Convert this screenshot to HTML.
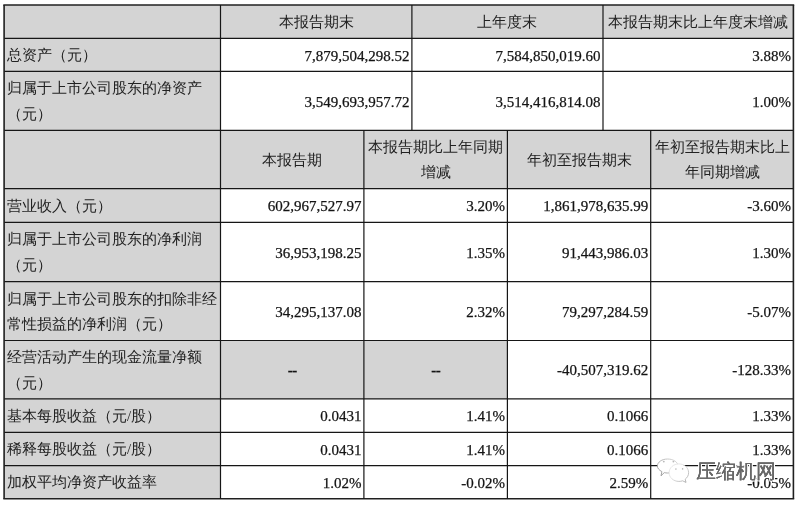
<!DOCTYPE html>
<html><head><meta charset="utf-8"><style>
html,body{margin:0;padding:0;background:#fff;}
#pg{position:relative;width:800px;height:506px;overflow:hidden;background:#fff;filter:grayscale(1);font-family:"Liberation Serif",serif;color:#141414;}
svg{position:absolute;left:0;top:0;}
.c{position:absolute;display:flex;align-items:center;box-sizing:border-box;font-size:14.8px;line-height:25.5px;white-space:nowrap;}
.zh{color:#222;}
.dash{font-weight:bold;letter-spacing:-0.6px;}
.num{font-family:"Liberation Serif",serif;font-size:15px;-webkit-text-stroke:0.25px #141414;}
.wm{position:absolute;}
.wmt{position:absolute;font-family:"Liberation Sans",sans-serif;font-size:19.5px;line-height:24px;color:#686868;white-space:nowrap;text-shadow:0.45px 0 0 #686868,0 0.3px 0 #686868,1.3px 0 0 #fff,-1px 0 0 #fff,0 1.2px 0 #fff,0 -1px 0 #fff,1.2px 1.2px 0 #fff,-1px -1px 0 #fff,1.2px -1px 0 #fff,-1px 1.2px 0 #fff;}
</style></head><body><div id="pg">
<svg width="800" height="506" viewBox="0 0 800 506">
<rect x="4.1" y="5" width="789.30" height="33.40" fill="#d4d4d4"/>
<rect x="4.1" y="38.4" width="216.40" height="91.90" fill="#d4d4d4"/>
<rect x="4.1" y="130.3" width="789.30" height="58.40" fill="#d4d4d4"/>
<rect x="4.1" y="188.7" width="216.40" height="310.10" fill="#d4d4d4"/>
<rect x="220.5" y="340.5" width="286.90" height="58.40" fill="#d4d4d4"/>
<line x1="4.1" y1="38.4" x2="793.4" y2="38.4" stroke="#161616" stroke-width="1.2"/>
<line x1="4.1" y1="71.4" x2="793.4" y2="71.4" stroke="#161616" stroke-width="1.2"/>
<line x1="4.1" y1="130.3" x2="793.4" y2="130.3" stroke="#161616" stroke-width="1.2"/>
<line x1="4.1" y1="188.7" x2="793.4" y2="188.7" stroke="#161616" stroke-width="1.2"/>
<line x1="4.1" y1="222.3" x2="793.4" y2="222.3" stroke="#161616" stroke-width="1.2"/>
<line x1="4.1" y1="281.7" x2="793.4" y2="281.7" stroke="#161616" stroke-width="1.2"/>
<line x1="4.1" y1="340.5" x2="793.4" y2="340.5" stroke="#161616" stroke-width="1.2"/>
<line x1="4.1" y1="398.9" x2="793.4" y2="398.9" stroke="#161616" stroke-width="1.2"/>
<line x1="4.1" y1="432.3" x2="793.4" y2="432.3" stroke="#161616" stroke-width="1.2"/>
<line x1="4.1" y1="465.6" x2="793.4" y2="465.6" stroke="#161616" stroke-width="1.2"/>
<line x1="3.3" y1="5" x2="794.1999999999999" y2="5" stroke="#202020" stroke-width="1.6"/>
<line x1="3.3" y1="498.8" x2="794.1999999999999" y2="498.8" stroke="#202020" stroke-width="1.6"/>
<line x1="4.1" y1="5" x2="4.1" y2="498.8" stroke="#202020" stroke-width="1.6"/>
<line x1="793.4" y1="5" x2="793.4" y2="498.8" stroke="#202020" stroke-width="1.6"/>
<line x1="220.5" y1="5" x2="220.5" y2="498.8" stroke="#161616" stroke-width="1.2"/>
<line x1="411.9" y1="5" x2="411.9" y2="130.3" stroke="#161616" stroke-width="1.2"/>
<line x1="603.0" y1="5" x2="603.0" y2="130.3" stroke="#161616" stroke-width="1.2"/>
<line x1="363.9" y1="130.3" x2="363.9" y2="498.8" stroke="#161616" stroke-width="1.2"/>
<line x1="507.4" y1="130.3" x2="507.4" y2="498.8" stroke="#161616" stroke-width="1.2"/>
<line x1="650.7" y1="130.3" x2="650.7" y2="498.8" stroke="#161616" stroke-width="1.2"/>
</svg>
<div class="c zh" style="left:220.5px;top:6.0px;width:191.4px;height:33.4px;justify-content:center;text-align:center;">本报告期末</div>
<div class="c zh" style="left:411.9px;top:6.0px;width:191.1px;height:33.4px;justify-content:center;text-align:center;">上年度末</div>
<div class="c zh" style="left:603.0px;top:6.0px;width:190.4px;height:33.4px;justify-content:center;text-align:center;">本报告期末比上年度末增减</div>
<div class="c zh" style="left:4.1px;top:39.4px;width:216.4px;height:33.0px;justify-content:flex-start;text-align:left;padding-left:2.8px">总资产（元）</div>
<div class="c num" style="left:220.5px;top:39.9px;width:191.4px;height:33.0px;justify-content:flex-end;text-align:right;padding-right:2.4px">7,879,504,298.52</div>
<div class="c num" style="left:411.9px;top:39.9px;width:191.1px;height:33.0px;justify-content:flex-end;text-align:right;padding-right:2.4px">7,584,850,019.60</div>
<div class="c num" style="left:603.0px;top:39.9px;width:190.4px;height:33.0px;justify-content:flex-end;text-align:right;padding-right:2.4px">3.88%</div>
<div class="c zh" style="left:4.1px;top:72.4px;width:216.4px;height:58.9px;justify-content:flex-start;text-align:left;padding-left:2.8px">归属于上市公司股东的净资产<br>（元）</div>
<div class="c num" style="left:220.5px;top:72.9px;width:191.4px;height:58.9px;justify-content:flex-end;text-align:right;padding-right:2.4px">3,549,693,957.72</div>
<div class="c num" style="left:411.9px;top:72.9px;width:191.1px;height:58.9px;justify-content:flex-end;text-align:right;padding-right:2.4px">3,514,416,814.08</div>
<div class="c num" style="left:603.0px;top:72.9px;width:190.4px;height:58.9px;justify-content:flex-end;text-align:right;padding-right:2.4px">1.00%</div>
<div class="c zh" style="left:220.5px;top:131.3px;width:143.4px;height:58.4px;justify-content:center;text-align:center;">本报告期</div>
<div class="c zh" style="left:363.9px;top:131.3px;width:143.5px;height:58.4px;justify-content:center;text-align:center;">本报告期比上年同期<br>增减</div>
<div class="c zh" style="left:507.4px;top:131.3px;width:143.3px;height:58.4px;justify-content:center;text-align:center;">年初至报告期末</div>
<div class="c zh" style="left:650.7px;top:131.3px;width:142.7px;height:58.4px;justify-content:center;text-align:center;">年初至报告期末比上<br>年同期增减</div>
<div class="c zh" style="left:4.1px;top:189.7px;width:216.4px;height:33.6px;justify-content:flex-start;text-align:left;padding-left:2.8px">营业收入（元）</div>
<div class="c num" style="left:220.5px;top:190.2px;width:143.4px;height:33.6px;justify-content:flex-end;text-align:right;padding-right:2.4px">602,967,527.97</div>
<div class="c num" style="left:363.9px;top:190.2px;width:143.5px;height:33.6px;justify-content:flex-end;text-align:right;padding-right:2.4px">3.20%</div>
<div class="c num" style="left:507.4px;top:190.2px;width:143.3px;height:33.6px;justify-content:flex-end;text-align:right;padding-right:2.4px">1,861,978,635.99</div>
<div class="c num" style="left:650.7px;top:190.2px;width:142.7px;height:33.6px;justify-content:flex-end;text-align:right;padding-right:2.4px">-3.60%</div>
<div class="c zh" style="left:4.1px;top:223.3px;width:216.4px;height:59.4px;justify-content:flex-start;text-align:left;padding-left:2.8px">归属于上市公司股东的净利润<br>（元）</div>
<div class="c num" style="left:220.5px;top:223.8px;width:143.4px;height:59.4px;justify-content:flex-end;text-align:right;padding-right:2.4px">36,953,198.25</div>
<div class="c num" style="left:363.9px;top:223.8px;width:143.5px;height:59.4px;justify-content:flex-end;text-align:right;padding-right:2.4px">1.35%</div>
<div class="c num" style="left:507.4px;top:223.8px;width:143.3px;height:59.4px;justify-content:flex-end;text-align:right;padding-right:2.4px">91,443,986.03</div>
<div class="c num" style="left:650.7px;top:223.8px;width:142.7px;height:59.4px;justify-content:flex-end;text-align:right;padding-right:2.4px">1.30%</div>
<div class="c zh" style="left:4.1px;top:282.7px;width:216.4px;height:58.8px;justify-content:flex-start;text-align:left;padding-left:2.8px">归属于上市公司股东的扣除非经<br>常性损益的净利润（元）</div>
<div class="c num" style="left:220.5px;top:283.2px;width:143.4px;height:58.8px;justify-content:flex-end;text-align:right;padding-right:2.4px">34,295,137.08</div>
<div class="c num" style="left:363.9px;top:283.2px;width:143.5px;height:58.8px;justify-content:flex-end;text-align:right;padding-right:2.4px">2.32%</div>
<div class="c num" style="left:507.4px;top:283.2px;width:143.3px;height:58.8px;justify-content:flex-end;text-align:right;padding-right:2.4px">79,297,284.59</div>
<div class="c num" style="left:650.7px;top:283.2px;width:142.7px;height:58.8px;justify-content:flex-end;text-align:right;padding-right:2.4px">-5.07%</div>
<div class="c zh" style="left:4.1px;top:341.5px;width:216.4px;height:58.4px;justify-content:flex-start;text-align:left;padding-left:2.8px">经营活动产生的现金流量净额<br>（元）</div>
<div class="c num dash" style="left:220.5px;top:341.5px;width:143.4px;height:58.4px;justify-content:center;text-align:center;">--</div>
<div class="c num dash" style="left:363.9px;top:341.5px;width:143.5px;height:58.4px;justify-content:center;text-align:center;">--</div>
<div class="c num" style="left:507.4px;top:342.0px;width:143.3px;height:58.4px;justify-content:flex-end;text-align:right;padding-right:2.4px">-40,507,319.62</div>
<div class="c num" style="left:650.7px;top:342.0px;width:142.7px;height:58.4px;justify-content:flex-end;text-align:right;padding-right:2.4px">-128.33%</div>
<div class="c zh" style="left:4.1px;top:399.9px;width:216.4px;height:33.4px;justify-content:flex-start;text-align:left;padding-left:2.8px">基本每股收益（元/股）</div>
<div class="c num" style="left:220.5px;top:400.4px;width:143.4px;height:33.4px;justify-content:flex-end;text-align:right;padding-right:2.4px">0.0431</div>
<div class="c num" style="left:363.9px;top:400.4px;width:143.5px;height:33.4px;justify-content:flex-end;text-align:right;padding-right:2.4px">1.41%</div>
<div class="c num" style="left:507.4px;top:400.4px;width:143.3px;height:33.4px;justify-content:flex-end;text-align:right;padding-right:2.4px">0.1066</div>
<div class="c num" style="left:650.7px;top:400.4px;width:142.7px;height:33.4px;justify-content:flex-end;text-align:right;padding-right:2.4px">1.33%</div>
<div class="c zh" style="left:4.1px;top:433.3px;width:216.4px;height:33.3px;justify-content:flex-start;text-align:left;padding-left:2.8px">稀释每股收益（元/股）</div>
<div class="c num" style="left:220.5px;top:433.8px;width:143.4px;height:33.3px;justify-content:flex-end;text-align:right;padding-right:2.4px">0.0431</div>
<div class="c num" style="left:363.9px;top:433.8px;width:143.5px;height:33.3px;justify-content:flex-end;text-align:right;padding-right:2.4px">1.41%</div>
<div class="c num" style="left:507.4px;top:433.8px;width:143.3px;height:33.3px;justify-content:flex-end;text-align:right;padding-right:2.4px">0.1066</div>
<div class="c num" style="left:650.7px;top:433.8px;width:142.7px;height:33.3px;justify-content:flex-end;text-align:right;padding-right:2.4px">1.33%</div>
<div class="c zh" style="left:4.1px;top:466.6px;width:216.4px;height:33.2px;justify-content:flex-start;text-align:left;padding-left:2.8px">加权平均净资产收益率</div>
<div class="c num" style="left:220.5px;top:467.1px;width:143.4px;height:33.2px;justify-content:flex-end;text-align:right;padding-right:2.4px">1.02%</div>
<div class="c num" style="left:363.9px;top:467.1px;width:143.5px;height:33.2px;justify-content:flex-end;text-align:right;padding-right:2.4px">-0.02%</div>
<div class="c num" style="left:507.4px;top:467.1px;width:143.3px;height:33.2px;justify-content:flex-end;text-align:right;padding-right:2.4px">2.59%</div>
<div class="c num" style="left:650.7px;top:467.1px;width:142.7px;height:33.2px;justify-content:flex-end;text-align:right;padding-right:2.4px">-0.05%</div>
<svg class="wm" width="800" height="506" viewBox="0 0 800 506" style="position:absolute;left:0;top:0">
<defs>
<linearGradient id="g1" x1="0" y1="0" x2="1" y2="1"><stop offset="0" stop-color="#e6e6e6"/><stop offset="0.45" stop-color="#e0e0e0"/><stop offset="1" stop-color="#a0a0a0"/></linearGradient>
<linearGradient id="g2" x1="1" y1="0" x2="0" y2="1"><stop offset="0" stop-color="#e0e0e0"/><stop offset="0.4" stop-color="#b0b0b0"/><stop offset="1" stop-color="#909090"/></linearGradient>
</defs>
<path d="M667.6 459 C673.6 459 678 462.2 678 466 C678 470 673.6 473 667.6 473 C666.4 473 665.3 472.9 664.3 472.6 L661 475.8 L661.9 471.6 C659.1 470.2 657.4 468.2 657.4 466 C657.4 462.2 661.8 459 667.6 459 Z" fill="#fff" stroke="url(#g2)" stroke-width="0.9"/>
<path d="M678.9 463.9 C684.3 463.9 688.6 467.8 688.6 472.7 C688.6 475.4 687.3 477.6 685.2 479.2 L686 482.4 L682.6 480.8 C681.5 481.2 680.2 481.4 678.9 481.4 C673.5 481.4 669.1 477.5 669.1 472.7 C669.1 467.8 673.5 463.9 678.9 463.9 Z" fill="#fff" stroke="url(#g1)" stroke-width="0.9"/>
<g fill="#b8b8b8"><circle cx="663.8" cy="461.6" r="0.9"/><circle cx="673.4" cy="461.6" r="0.9"/><circle cx="675.9" cy="469.1" r="0.8"/><circle cx="682.6" cy="468.9" r="0.8"/></g>
</svg>
<div class="wmt" style="left:695.7px;top:458.7px;">压缩机网</div>
</div></body></html>
